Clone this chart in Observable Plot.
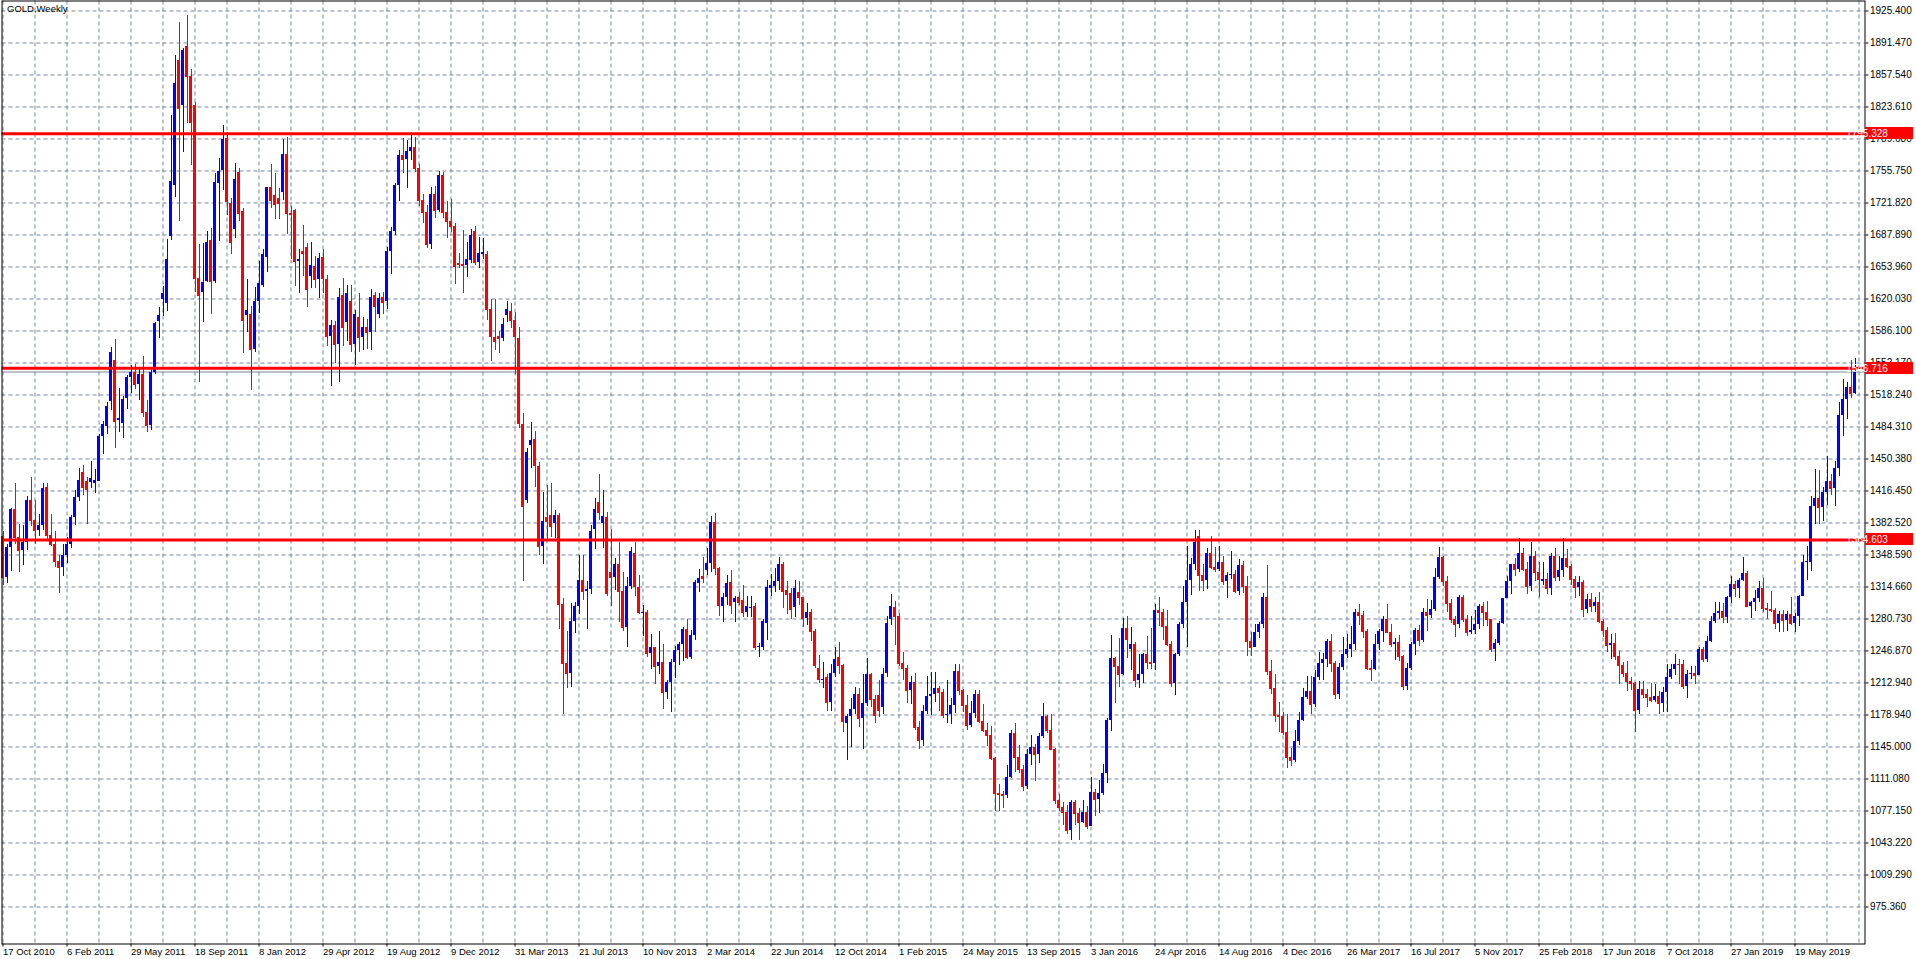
<!DOCTYPE html>
<html><head><meta charset="utf-8">
<script src="https://cdn.jsdelivr.net/npm/d3@7"></script>
<script src="https://cdn.jsdelivr.net/npm/@observablehq/plot@0.6"></script>
<style>
html,body{margin:0;padding:0;background:#fff;overflow:hidden}
#chart{position:relative;width:1916px;height:959px}
</style></head><body><div id="chart"></div>
<script>
const symbolLabel = "GOLD,Weekly";
// weekly bars, index 0 = week of 17 Oct 2010
const opens = [
1368,1325,1357,1397,1367,1353,1362,1406, 1385,1375,1380,1420,1369,1360,1342,1335,
1348,1360,1388,1410,1436,1427,1425,1424, 1427,1474,1485,1511,1555,1491,1488,1514,
1537,1542,1529,1540,1500,1486,1542,1596, 1620,1615,1686,1740,1873,1825,1888,1856,
1825,1642,1627,1639,1682,1639,1743,1756, 1790,1721,1694,1754,1713,1603,1604,1566,
1617,1634,1664,1738,1730,1727,1733,1773, 1711,1714,1660,1670,1675,1644,1654,1641,
1664,1641,1580,1592,1572,1624,1595,1617, 1572,1600,1579,1590,1584,1624,1604,1622,
1617,1670,1692,1740,1772,1768,1776,1781, 1758,1724,1712,1678,1731,1714,1751,1712,
1702,1697,1658,1657,1656,1661,1692,1659, 1667,1667,1609,1579,1580,1578,1603,1607,
1597,1578,1487,1406,1465,1471,1442,1358, 1388,1390,1382,1390,1296,1234,1223,1278,
1294,1322,1310,1312,1376,1404,1382,1388, 1330,1325,1338,1310,1272,1315,1350,1314,
1287,1288,1244,1250,1230,1235,1203,1213, 1235,1247,1254,1270,1240,1263,1318,1326,
1332,1340,1383,1334,1294,1304,1319,1298, 1304,1300,1288,1292,1294,1250,1251,1276,
1313,1315,1321,1339,1311,1308,1293,1309, 1304,1281,1288,1268,1228,1215,1219,1192,
1223,1240,1231,1170,1177,1185,1201,1175, 1191,1222,1195,1200,1187,1223,1280,1293,
1283,1234,1228,1205,1213,1166,1152,1183, 1199,1201,1207,1203,1178,1180,1189,1225,
1205,1189,1168,1181,1201,1172,1163,1157, 1133,1096,1095,1094,1113,1159,1134,1121,
1103,1137,1145,1137,1156,1177,1163,1142, 1088,1081,1076,1057,1086,1075,1065,1076,
1061,1097,1089,1096,1117,1173,1239,1230, 1222,1271,1248,1254,1216,1222,1243,1235,
1234,1290,1288,1273,1254,1212,1243,1275, 1298,1322,1339,1368,1327,1322,1350,1335,
1333,1341,1321,1327,1328,1310,1337,1315, 1257,1251,1266,1275,1304,1225,1207,1178,
1177,1160,1134,1131,1151,1173,1197,1204, 1190,1219,1234,1238,1257,1234,1201,1229,
1243,1248,1254,1288,1284,1268,1228,1227, 1254,1267,1280,1266,1254,1256,1241,1209,
1228,1254,1269,1258,1288,1284,1291,1325, 1346,1320,1297,1280,1275,1304,1280,1266,
1269,1275,1294,1288,1280,1248,1255,1276, 1302,1320,1338,1333,1350,1333,1315,1347,
1330,1320,1323,1313,1347,1325,1332,1345, 1336,1323,1314,1319,1291,1301,1294,1298,
1278,1269,1253,1255,1241,1231,1223,1214, 1212,1184,1206,1201,1198,1194,1199,1191,
1203,1219,1227,1233,1232,1209,1222,1223, 1221,1248,1238,1257,1278,1287,1289,1282,
1303,1317,1313,1322,1329,1294,1298,1302, 1313,1292,1291,1290,1276,1286,1279,1285,
1276,1283,1305,1341,1341,1400,1409,1399, 1415,1426,1419,1440,1497,1513,1526,1520
];
const highs = [
1373,1360,1398,1424,1381,1380,1411,1431, 1406,1392,1424,1424,1392,1374,1348,1360,
1367,1390,1417,1440,1444,1431,1448,1439, 1476,1490,1510,1569,1577,1525,1517,1539,
1549,1551,1545,1559,1512,1545,1595,1611, 1633,1683,1815,1878,1913,1886,1921,1863,
1828,1678,1679,1692,1695,1753,1769,1804, 1797,1727,1764,1758,1716,1641,1612,1632,
1660,1672,1738,1763,1753,1737,1789,1791, 1718,1715,1672,1698,1679,1680,1665,1668,
1673,1645,1597,1596,1631,1642,1634,1634, 1608,1626,1600,1598,1630,1627,1626,1627,
1675,1696,1742,1777,1790,1788,1796,1791, 1763,1731,1719,1738,1739,1755,1754,1723,
1726,1700,1668,1693,1680,1694,1697,1685, 1684,1670,1620,1620,1586,1599,1617,1615,
1606,1590,1499,1461,1489,1480,1447,1415, 1422,1424,1396,1393,1302,1267,1297,1298,
1348,1348,1321,1380,1409,1434,1417,1394, 1376,1345,1362,1330,1325,1357,1362,1327,
1295,1290,1264,1251,1267,1254,1216,1238, 1252,1256,1272,1280,1269,1322,1333,1346,
1356,1389,1393,1335,1308,1327,1332,1305, 1309,1316,1305,1305,1297,1255,1280,1322,
1328,1334,1346,1341,1320,1313,1322,1320, 1304,1297,1291,1270,1242,1235,1222,1233,
1251,1256,1233,1179,1196,1208,1207,1222, 1239,1223,1200,1215,1228,1283,1307,1299,
1287,1245,1231,1220,1223,1172,1189,1220, 1224,1224,1209,1206,1215,1196,1232,1233,
1206,1200,1193,1205,1205,1190,1170,1167, 1134,1105,1098,1125,1163,1170,1147,1125,
1142,1157,1148,1159,1191,1178,1180,1143, 1095,1086,1083,1088,1088,1080,1088,1082,
1113,1100,1110,1126,1175,1263,1240,1260, 1281,1283,1272,1256,1243,1244,1262,1271,
1296,1304,1291,1290,1257,1244,1277,1315, 1358,1345,1375,1375,1338,1356,1368,1357,
1358,1347,1330,1352,1332,1344,1342,1326, 1266,1275,1277,1308,1337,1237,1222,1192,
1182,1180,1143,1163,1182,1207,1220,1220, 1226,1245,1244,1259,1264,1236,1234,1261,
1264,1273,1291,1296,1289,1270,1237,1264, 1270,1283,1296,1275,1260,1263,1242,1234,
1256,1271,1274,1292,1301,1300,1334,1357, 1347,1326,1301,1283,1306,1306,1284,1283,
1290,1296,1298,1299,1280,1259,1278,1302, 1326,1338,1345,1366,1355,1341,1362,1352,
1341,1341,1329,1350,1356,1347,1366,1354, 1339,1326,1326,1322,1307,1308,1303,1309,
1280,1272,1264,1265,1246,1235,1236,1219, 1213,1214,1214,1206,1212,1211,1204,1208,
1233,1233,1243,1238,1237,1226,1230,1230, 1250,1251,1262,1283,1298,1298,1297,1305,
1326,1320,1324,1346,1331,1299,1311,1320, 1324,1297,1310,1292,1289,1290,1289,1303,
1287,1306,1348,1358,1411,1439,1438,1420, 1453,1434,1448,1510,1535,1531,1555,1557
];
const lows = [
1316,1318,1331,1360,1330,1337,1353,1379, 1360,1368,1375,1363,1358,1335,1308,1326,
1340,1356,1380,1405,1412,1381,1419,1414, 1427,1455,1476,1502,1462,1478,1472,1503,
1520,1524,1512,1494,1478,1481,1540,1578, 1602,1607,1682,1728,1702,1775,1806,1762,
1627,1532,1595,1638,1604,1636,1681,1735, 1709,1667,1684,1702,1562,1585,1523,1563,
1605,1632,1648,1716,1704,1704,1725,1688, 1662,1633,1626,1644,1611,1631,1631,1621,
1626,1570,1527,1552,1532,1570,1575,1563, 1550,1563,1565,1567,1565,1585,1599,1604,
1609,1646,1687,1723,1753,1737,1767,1754, 1718,1700,1674,1672,1705,1712,1705,1684,
1691,1635,1652,1626,1643,1658,1656,1652, 1662,1597,1554,1565,1562,1575,1595,1589,
1540,1483,1321,1403,1440,1420,1348,1338, 1365,1367,1366,1270,1180,1207,1208,1265,
1285,1300,1270,1307,1354,1385,1355,1305, 1294,1311,1277,1268,1251,1312,1305,1286,
1262,1240,1227,1211,1222,1185,1195,1182, 1218,1231,1236,1238,1238,1258,1309,1318,
1327,1330,1327,1283,1277,1295,1285,1277, 1295,1282,1282,1282,1247,1240,1247,1258,
1305,1309,1311,1292,1286,1280,1282,1295, 1272,1274,1257,1228,1212,1207,1183,1183,
1219,1222,1160,1131,1144,1180,1166,1142, 1188,1187,1170,1176,1180,1219,1274,1253,
1230,1216,1191,1190,1162,1142,1146,1179, 1178,1192,1183,1175,1170,1169,1181,1200,
1182,1162,1166,1175,1170,1160,1146,1131, 1077,1077,1080,1090,1112,1118,1117,1098,
1100,1125,1108,1127,1154,1159,1141,1084, 1077,1062,1052,1046,1062,1046,1064,1058,
1061,1071,1075,1094,1106,1161,1191,1208, 1221,1239,1226,1208,1207,1212,1227,1227,
1226,1273,1258,1252,1208,1200,1241,1271, 1251,1306,1332,1310,1310,1312,1333,1330,
1331,1316,1302,1323,1308,1306,1308,1241, 1241,1250,1260,1271,1221,1201,1171,1160,
1157,1122,1124,1129,1147,1172,1195,1180, 1187,1215,1216,1229,1224,1195,1195,1226,
1239,1240,1247,1274,1260,1226,1214,1226, 1247,1256,1265,1251,1237,1236,1205,1205,
1226,1242,1252,1256,1267,1281,1289,1323, 1315,1288,1276,1261,1271,1277,1262,1264,
1264,1270,1273,1273,1245,1236,1253,1275, 1302,1307,1326,1330,1331,1307,1310,1321,
1303,1316,1307,1306,1321,1321,1325,1334, 1316,1302,1305,1282,1287,1288,1288,1276,
1261,1245,1238,1237,1211,1219,1204,1205, 1160,1180,1196,1187,1192,1192,1180,1182,
1182,1217,1221,1211,1206,1196,1217,1211, 1221,1235,1235,1256,1276,1280,1276,1276,
1297,1303,1302,1320,1294,1281,1289,1298, 1288,1280,1288,1270,1266,1266,1268,1274,
1266,1273,1305,1322,1331,1381,1381,1384, 1401,1412,1400,1432,1474,1492,1515,1519
];
const closes = [
1325,1357,1397,1367,1353,1362,1406,1385, 1375,1380,1419,1369,1360,1342,1335,1348,
1360,1388,1410,1428,1420,1418,1430,1428, 1474,1487,1506,1563,1490,1493,1513,1537,
1542,1529,1540,1500,1486,1542,1594,1603, 1626,1662,1745,1849,1822,1883,1856,1807,
1642,1624,1637,1680,1639,1744,1755,1789, 1723,1680,1747,1711,1597,1608,1566,1617,
1636,1667,1738,1725,1720,1721,1773,1711, 1710,1660,1662,1668,1630,1656,1641,1663,
1642,1580,1592,1572,1622,1590,1626,1572, 1604,1579,1590,1584,1622,1612,1621,1616,
1670,1692,1740,1772,1768,1776,1781,1758, 1724,1712,1678,1731,1714,1751,1712,1702,
1697,1655,1657,1656,1662,1687,1659,1668, 1669,1609,1580,1575,1578,1593,1609,1597,
1580,1488,1400,1457,1470,1443,1358,1384, 1384,1379,1391,1296,1234,1223,1278,1294,
1322,1310,1312,1373,1397,1394,1389,1308, 1325,1338,1310,1272,1315,1352,1315,1288,
1288,1244,1250,1230,1235,1203,1213,1235, 1247,1254,1270,1240,1263,1319,1324,1324,
1340,1383,1334,1295,1304,1318,1295,1302, 1298,1288,1294,1293,1250,1252,1278,1314,
1316,1321,1339,1310,1307,1291,1313,1303, 1281,1288,1268,1231,1217,1217,1192,1223,
1238,1231,1172,1177,1185,1201,1175,1191, 1222,1195,1178,1184,1222,1276,1294,1283,
1234,1228,1205,1213,1166,1152,1183,1199, 1201,1207,1203,1178,1180,1189,1225,1205,
1189,1168,1181,1201,1172,1163,1157,1133, 1096,1095,1094,1113,1159,1134,1121,1103,
1137,1145,1137,1156,1177,1163,1142,1088, 1081,1076,1057,1086,1075,1065,1076,1061,
1097,1089,1096,1117,1173,1239,1230,1222, 1271,1259,1254,1216,1222,1243,1235,1234,
1290,1288,1273,1254,1212,1243,1275,1298, 1322,1339,1362,1327,1322,1350,1335,1333,
1341,1321,1327,1328,1310,1337,1315,1257, 1251,1266,1275,1304,1225,1207,1178,1177,
1160,1134,1131,1151,1173,1197,1204,1190, 1219,1234,1238,1257,1234,1201,1229,1243,
1248,1254,1288,1284,1268,1228,1227,1254, 1267,1280,1266,1254,1256,1241,1209,1228,
1254,1269,1258,1288,1284,1291,1325,1346, 1320,1297,1280,1275,1304,1280,1266,1269,
1275,1294,1288,1280,1248,1255,1276,1302, 1320,1338,1333,1350,1333,1315,1347,1330,
1323,1323,1313,1347,1325,1332,1345,1336, 1323,1314,1319,1291,1301,1294,1298,1278,
1269,1253,1255,1241,1231,1223,1214,1212, 1184,1206,1201,1198,1194,1199,1191,1203,
1219,1227,1233,1232,1209,1222,1223,1221, 1248,1238,1257,1278,1287,1289,1282,1303,
1317,1313,1322,1329,1294,1298,1302,1313, 1292,1291,1290,1276,1286,1279,1285,1276,
1283,1305,1341,1342,1400,1409,1399,1415, 1426,1419,1440,1497,1513,1526,1520,1543
];
const xTickIdx = [0,16,32,48,64,80,96,112,128,144,160,176,192,208,224,240,256,272,288,304,320,336,352,368,384,400,416,432,448];
const xTickLabels = ["17 Oct 2010","6 Feb 2011","29 May 2011","18 Sep 2011","8 Jan 2012","29 Apr 2012","19 Aug 2012","9 Dec 2012","31 Mar 2013","21 Jul 2013","10 Nov 2013","2 Mar 2014","22 Jun 2014","12 Oct 2014","1 Feb 2015","24 May 2015","13 Sep 2015","3 Jan 2016","24 Apr 2016","14 Aug 2016","4 Dec 2016","26 Mar 2017","16 Jul 2017","5 Nov 2017","25 Feb 2018","17 Jun 2018","7 Oct 2018","27 Jan 2019","19 May 2019"];
const yTickLabels = ["1925.400","1891.470","1857.540","1823.610","1789.680","1755.750","1721.820","1687.890","1653.960","1620.030","1586.100","1552.170","1518.240","1484.310","1450.380","1416.450","1382.520","1348.590","1314.660","1280.730","1246.870","1212.940","1178.940","1145.000","1111.080","1077.150","1043.220","1009.290","975.360"];
const levelPrices = [1795.328, 1546.716, 1364.603];
const bidPrice = 1542.6;

const FONT = "'Liberation Sans', Arial, sans-serif";
const yTickValues = yTickLabels.map(Number);
const yLabelMap = new Map(yTickValues.map((v, k) => [v, yTickLabels[k]]));
const xLabelMap = new Map(xTickIdx.map((v, k) => [v, xTickLabels[k]]));
const gridIdx = d3.range(0, opens.length + 1, 8);
const UP = "#0000ff", DOWN = "#ff0000";
const bars = opens.map((o, i) => ({i, o, h: highs[i], l: lows[i], c: closes[i], col: closes[i] >= o ? UP : DOWN}));

const plot = Plot.plot({
  width: 1916, height: 959,
  marginLeft: 1.5, marginRight: 51.5, marginTop: 0.5, marginBottom: 15.5,
  style: {fontFamily: FONT, fontSize: "10px", background: "#ffffff", color: "#000000"},
  x: {type: "linear", domain: [0, 465], range: [2.5, 1862.5], label: null},
  y: {type: "linear", domain: [975.36, 1925.4], range: [906.5, 10.5], label: null},
  color: {type: "identity"},
  marks: [
    Plot.gridX(gridIdx, {stroke: "#778899", strokeOpacity: 1, strokeDasharray: "4,3"}),
    Plot.gridY(yTickValues, {stroke: "#778899", strokeOpacity: 1, strokeDasharray: "4,3"}),
    Plot.ruleY([bidPrice], {stroke: "#778899", strokeWidth: 1}),
    Plot.ruleX(bars, {x: "i", y1: "l", y2: "h", stroke: "col", strokeWidth: 1, shapeRendering: "crispEdges"}),
    Plot.rect(bars, {x1: d => d.i - 0.375, x2: d => d.i + 0.375, y1: "o", y2: "c", fill: "col", shapeRendering: "crispEdges"}),
    Plot.ruleY(bars, {y: "c", x1: d => d.i - 0.375, x2: d => d.i + 0.375, stroke: "col", strokeWidth: 1, shapeRendering: "crispEdges"}),
    Plot.ruleY(levelPrices, {stroke: "#ff0000", strokeWidth: 3}),
    Plot.frame({stroke: "#000000"}),
    Plot.axisY(yTickValues, {anchor: "right", label: null, tickSize: 3, tickPadding: 2, tickFormat: d => yLabelMap.get(d), fill: "#000", stroke: "#000", fontSize: 10}),
    Plot.axisX(xTickIdx, {anchor: "bottom", label: null, tickSize: 3, tickPadding: 1, textAnchor: "start", tickFormat: d => xLabelMap.get(d), fill: "#000", stroke: "#000", fontSize: 9.5}),
    Plot.text([symbolLabel], {frameAnchor: "top-left", dx: 5, dy: 4, fill: "#000", fontSize: 9.5, textAnchor: "start", lineAnchor: "top"})
  ]
});
document.getElementById("chart").appendChild(plot);

// price labels of the horizontal lines on the right scale
const ys = plot.scale("y");
const svg = d3.select(plot);
levelPrices.forEach(p => {
  const yy = Math.round(ys.apply(p));
  const g = svg.append("g");
  g.append("rect").attr("x", 1865).attr("y", yy - 6).attr("width", 48).attr("height", 12).attr("fill", "#ff0000");
  g.append("text").attr("x", 1867).attr("y", yy + 4).attr("fill", "#ffffff")
    .attr("font-family", FONT).attr("font-size", 10).text(p.toFixed(3));
});
</script>
</body></html>
